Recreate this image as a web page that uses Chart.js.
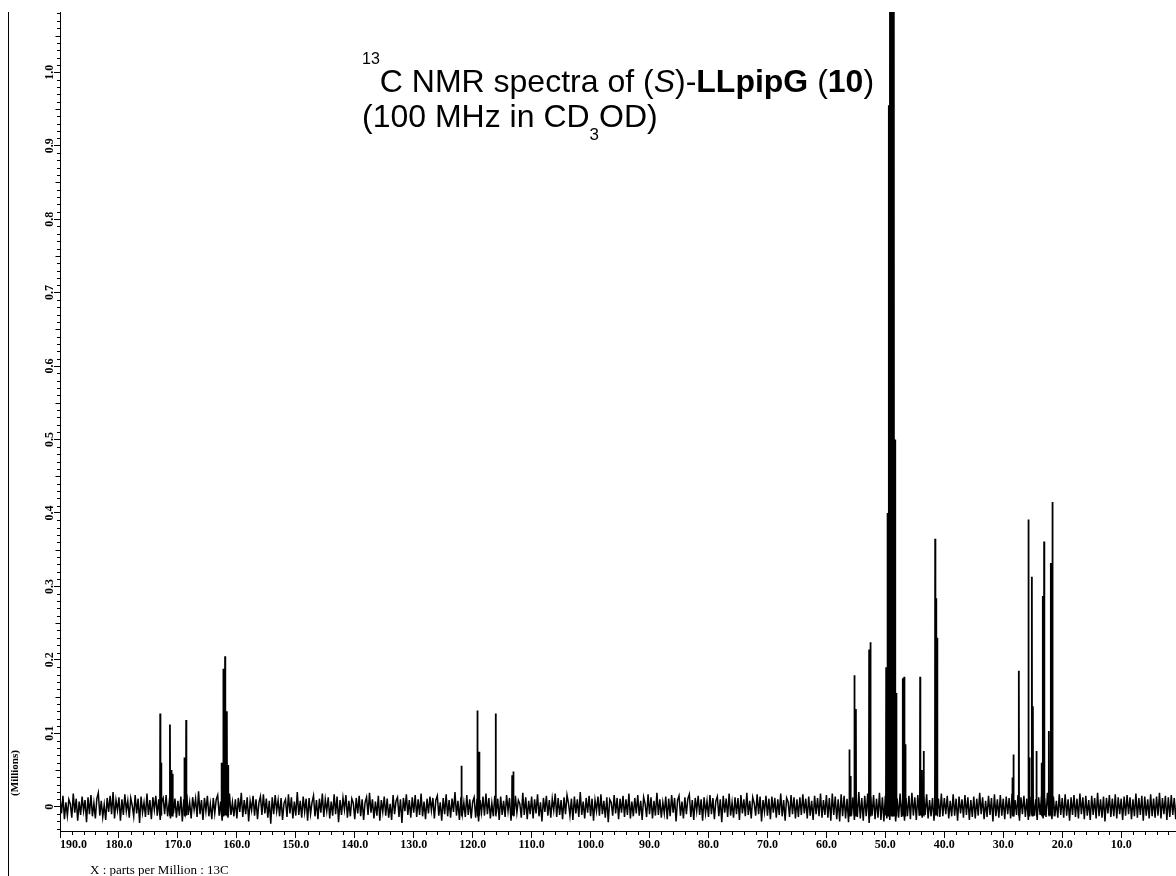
<!DOCTYPE html>
<html>
<head>
<meta charset="utf-8">
<title>13C NMR (S)-LLpipG</title>
<script src="https://cdn.jsdelivr.net/npm/chart.js@4.4.1/dist/chart.umd.min.js"></script>
<style>
  html, body { margin: 0; padding: 0; background: #fff; }
  canvas { display: block; }
</style>
</head>
<body>
<canvas id="nmrChart" width="1176" height="876"></canvas>
<script>
// axis ranges (ppm axis runs right to left)
const ppmMax = 190;
const ppmMin = 0.7;
const intensityMin = -0.033;
const intensityMax = 1.082;

const xTickValues = [190, 180, 170, 160, 150, 140, 130, 120, 110, 100, 90, 80, 70, 60, 50, 40, 30, 20, 10];
const yTickValues = [0, 0.1, 0.2, 0.3, 0.4, 0.5, 0.6, 0.7, 0.8, 0.9, 1.0];
const yTickLabels = ['0', '0.1', '0.2', '0.3', '0.4', '0.5', '0.6', '0.7', '0.8', '0.9', '1.0'];

// signals: shift in ppm and peak height (millions)
const peakPpm = [
  173.0, 172.85, 171.35, 171.1, 170.9, 168.9, 168.6,
  162.6, 162.3, 162.0, 161.7, 161.5,
  121.9, 119.2, 118.9, 116.1, 113.3, 113.1,
  56.1, 55.9, 55.25, 55.0, 52.75, 52.53,
  49.86, 49.64, 49.43, 49.21, 49.0, 48.79, 48.57, 48.36, 48.14,
  47.04, 46.8, 46.6, 44.1, 43.8, 43.5, 41.55, 41.4, 41.2,
  28.45, 28.27, 27.36, 25.73, 25.56, 25.15, 24.98, 24.37,
  23.5, 23.29, 23.07, 22.27, 21.93, 21.66
];
const peakHeight = [
  0.127, 0.06, 0.112, 0.05, 0.045, 0.067, 0.118,
  0.06, 0.188, 0.205, 0.13, 0.057,
  0.056, 0.131, 0.075, 0.127, 0.043, 0.048,
  0.078, 0.042, 0.179, 0.133, 0.214, 0.224,
  0.19, 0.40, 0.955, 1.3, 1.3, 1.3, 1.3, 0.5, 0.155,
  0.175, 0.177, 0.085, 0.177, 0.05, 0.076, 0.365, 0.284, 0.23,
  0.04, 0.071, 0.185, 0.391, 0.067, 0.313, 0.137, 0.076,
  0.06, 0.287, 0.361, 0.103, 0.332, 0.415
];

// baseline noise, read every 0.25 ppm from 190 ppm downwards
const noiseStartPpm = 190;
const noiseStepPpm = 0.25;
const noiseValues = [
  .012,-.009,.015,-.017,.006,-.012,.010,.004,-.015,.018,-.008,.011,-.019,.007,-.011,.014,-.006,.009,-.021,.013,
  -.010,.016,-.013,.005,-.016,.011,.019,-.012,.008,-.014,.003,-.018,.012,-.007,.015,-.010,.020,-.016,.009,-.005,
  .013,-.019,.010,-.011,.017,-.006,.008,-.015,.012,.002,-.013,.016,-.009,.011,-.022,.014,-.008,.006,-.014,.018,
  -.011,.009,-.017,.013,-.004,.015,-.012,.010,-.018,.007,.012,-.010,.016,-.013,.005,-.016,.019,-.009,.011,-.015,
  .008,-.012,.014,-.020,.010,-.007,.017,-.011,.006,-.016,.013,-.004,.011,-.014,.021,-.010,.009,-.018,.012,-.006,
  .015,-.013,.004,-.017,.012,-.009,.010,.016,-.012,.007,-.019,.014,-.008,.011,-.015,.018,-.011,.006,-.013,.010,
  -.016,.012,-.007,.019,-.014,.009,-.010,.013,-.020,.008,-.005,.015,-.012,.010,-.017,.006,.014,-.011,.017,-.009,
  .011,-.015,.008,-.023,.013,-.010,.016,-.006,.009,-.013,.012,-.018,.005,.010,-.014,.017,-.009,.013,-.016,.007,
  -.012,.020,-.011,.008,-.015,.014,-.007,.011,-.019,.012,-.010,.006,.015,-.013,.009,-.017,.011,-.008,.018,-.014,
  .010,-.006,.013,-.016,.007,-.012,.017,-.010,.014,-.021,.009,-.011,.012,-.004,.016,-.015,.008,-.013,.011,.005,
  -.017,.012,-.009,.015,-.013,.010,-.018,.006,.013,-.011,.019,-.008,.010,-.016,.007,-.012,.015,-.019,.009,-.007,
  .014,-.012,.011,-.015,.004,-.018,.016,-.010,.008,.013,-.014,.010,-.022,.012,-.006,.017,-.011,.009,-.015,.013,
  -.008,.016,-.014,.010,-.011,.018,-.013,.007,-.017,.011,-.009,.014,-.005,.012,-.016,.009,.015,-.012,.006,-.019,
  .012,-.010,.017,-.013,.009,-.015,.011,-.007,.020,-.012,.008,-.018,.013,-.010,.006,-.014,.016,-.011,.010,-.016,
  .007,.013,-.015,.011,-.020,.009,-.008,.014,-.012,.018,-.010,.012,-.016,.005,-.013,.015,-.009,.011,-.018,.014,
  -.011,.008,-.014,.016,-.006,.012,-.019,.010,-.012,.015,-.008,.009,.004,-.015,.019,-.011,.013,-.017,.008,-.010,
  .014,-.016,.010,-.009,.017,-.013,.006,-.020,.012,-.007,.015,-.012,.009,-.015,.011,-.005,.018,-.014,.012,-.011,
  .009,-.017,.013,-.010,.016,.005,-.012,.011,-.018,.014,-.009,.010,-.014,.020,-.011,.007,-.016,.012,-.008,.015,
  -.013,.011,-.019,.009,-.006,.014,-.012,.017,-.010,.008,-.015,.013,-.021,.010,.006,-.012,.016,-.009,.012,-.017,
  .011,-.008,.015,-.014,.010,-.011,.018,-.016,.007,-.013,.012,-.009,.016,-.012,.008,-.018,.013,.004,-.014,.017,
  -.010,.013,-.016,.008,-.012,.019,-.011,.010,-.015,.006,-.009,.014,-.017,.011,-.013,.016,-.008,.012,-.020,.009,
  .015,-.012,.007,-.016,.013,-.010,.011,.017,-.014,.009,-.018,.012,-.006,.015,-.011,.010,-.019,.013,-.009,.008,
  -.014,.016,-.010,.012,-.017,.008,.014,-.013,.010,-.021,.015,-.008,.011,-.014,.018,-.012,.006,-.015,.013,-.010,
  .012,-.018,.016,-.009,.010,-.013,.019,-.011,.008,-.016,.013,.005,-.012,.017,-.010,.014,-.020,.009,-.007,.015,
  -.012,.011,-.017,.014,-.008,.012,-.015,.010,-.011,.018,-.013,.009,-.019,.012,.007,-.014,.016,-.010,.013,-.016,
  .010,-.014,.013,-.011,.017,-.009,.011,-.016,.014,-.012,.008,-.018,.015,-.010,.012,-.013,.018,-.015,.009,-.011,
  .016,-.015,.012,-.019,.018,-.011,.014,-.017,.010,-.020,.017,-.013,.015,-.016,.011,-.021,.019,-.012,.013,-.018,
  .017,-.014,.020,-.016,.012,-.019,.015,-.013,.018,-.022,.014,-.012,.016,-.017,.011,-.015,.019,-.018,.013,-.020,
  .015,-.016,.012,-.018,.017,-.013,.014,-.020,.011,-.015,.018,-.014,.016,-.019,.012,-.013,.015,-.017,.019,-.012,
  .013,-.018,.016,-.012,.010,-.015,.014,-.011,.017,-.016,.009,-.013,.012,-.019,.015,-.010,.011,-.014,.018,-.013,
  .012,-.010,.015,-.016,.008,-.013,.017,-.012,.011,-.019,.014,-.009,.010,-.015,.016,-.011,.013,-.018,.009,-.014,
  .014,-.016,.011,-.012,.019,-.010,.013,-.017,.008,-.014,.015,-.011,.012,-.020,.017,-.013,.010,-.015,.016,-.012,
  .011,-.017,.014,-.010,.012,-.016,.018,-.013,.009,-.011,.016,-.019,.013,-.010,.015,-.014,.011,-.018,.014,-.009,
  .016,-.012,.010,-.018,.013,-.011,.015,-.016,.012,-.014,.019,-.010,.011,-.017,.014,-.013,.008,-.015,.017,-.011,
  .012,-.015,.017,-.012,.010,-.019,.013,-.011,.016,-.014,.011,-.016,.018,-.010,.013,-.017,.015,-.012,.009,-.018,
  .015,-.011,.012,-.016,.019,-.013,.010,-.015,.014,-.020,.012,-.009,.016,-.014,.011,-.013,.017,-.016,.013,-.010,
  .011,-.018,.014,-.012,.016,-.010,.013,-.017,.010,-.013,.018,-.015,.012,-.011,.015,-.019,.014,-.012,.010,-.016,
  .017,-.013,.011,-.015,.014,-.012,.019,-.016,.012,-.010,.015,-.018,.013,-.014,.016,-.011,.012,-.017,.015,-.013
];

const noisePoints = noiseValues.map((v, i) => ({ x: noiseStartPpm - i * noiseStepPpm, y: v }));

// each signal is a very narrow spike standing on the noise
const peakPoints = [];
peakPpm.forEach((p, i) => {
  peakPoints.push({ x: p + 0.04, y: -0.012 });
  peakPoints.push({ x: p, y: peakHeight[i] });
  peakPoints.push({ x: p - 0.04, y: -0.012 });
  peakPoints.push({ x: p - 0.04, y: null });
});

const sans = '"Liberation Sans", Arial, sans-serif';
const serif = '"Liberation Serif", "Times New Roman", serif';

function drawRuns(ctx, runs, x, y) {
  runs.forEach(r => {
    ctx.font = r.font;
    ctx.fillText(r.text, x, y + (r.dy || 0));
    x += ctx.measureText(r.text).width;
  });
}

const decorations = {
  id: 'decorations',
  afterDraw(chart) {
    const ctx = chart.ctx;
    const xs = chart.scales.x;
    const ys = chart.scales.y;
    ctx.save();
    ctx.strokeStyle = '#000';
    ctx.fillStyle = '#000';
    ctx.lineWidth = 1;

    // left frame line
    ctx.beginPath();
    ctx.moveTo(8.5, 12);
    ctx.lineTo(8.5, 876);
    ctx.stroke();

    // minor ticks
    ctx.beginPath();
    for (let v = 2; v < 190; v += 2) {
      if (v % 10 === 0) continue;
      const px = Math.round(xs.getPixelForValue(v)) + 0.5;
      ctx.moveTo(px, xs.top);
      ctx.lineTo(px, xs.top + 4);
    }
    for (let k = -3; k <= 108; k++) {
      if (k % 10 === 0) continue;
      const py = Math.round(ys.getPixelForValue(k / 100)) + 0.5;
      const len = k % 5 === 0 ? 4.5 : 3;
      ctx.moveTo(ys.right, py);
      ctx.lineTo(ys.right - len, py);
    }
    ctx.stroke();

    // title
    ctx.textAlign = 'left';
    ctx.textBaseline = 'alphabetic';
    const F = '32px ' + sans;
    drawRuns(ctx, [
      { text: '13', font: '16px ' + sans, dy: -28 },
      { text: 'C NMR spectra of (', font: F },
      { text: 'S', font: 'italic ' + F },
      { text: ')-', font: F },
      { text: 'LLpipG', font: 'bold ' + F },
      { text: ' (', font: F },
      { text: '10', font: 'bold ' + F },
      { text: ')', font: F }
    ], 362, 92);
    drawRuns(ctx, [
      { text: '(100 MHz in CD', font: F },
      { text: '3', font: '17px ' + sans, dy: 13 },
      { text: 'OD)', font: F }
    ], 362, 127);

    // axis captions
    ctx.font = 'bold 11px ' + serif;
    ctx.save();
    ctx.translate(15, 773);
    ctx.rotate(-Math.PI / 2);
    ctx.textAlign = 'center';
    ctx.textBaseline = 'middle';
    ctx.fillText('(Millions)', 0, 0);
    ctx.restore();

    ctx.font = '13px ' + serif;
    ctx.fillText('X : parts per Million : 13C', 90, 874);
    ctx.restore();
  }
};

const tickFont = { family: serif, size: 12, weight: 'bold' };

new Chart(document.getElementById('nmrChart'), {
  type: 'line',
  data: {
    datasets: [
      { data: noisePoints, borderColor: '#000', borderWidth: 1.5, pointRadius: 0, tension: 0 },
      { data: peakPoints, borderColor: '#000', borderWidth: 1.8, pointRadius: 0, tension: 0, spanGaps: false }
    ]
  },
  options: {
    responsive: false,
    animation: false,
    devicePixelRatio: 1,
    layout: { padding: { top: 12, left: 0, right: 0, bottom: 0 } },
    plugins: { legend: { display: false }, tooltip: { enabled: false } },
    scales: {
      x: {
        type: 'linear',
        reverse: true,
        min: ppmMin,
        max: ppmMax,
        afterBuildTicks: s => { s.ticks = xTickValues.map(v => ({ value: v })); },
        afterFit: s => { s.height = 45; },
        grid: { display: true, drawOnChartArea: false, drawTicks: true, tickLength: 7, color: '#000' },
        border: { display: true, color: '#000', width: 1 },
        ticks: {
          autoSkip: false, maxRotation: 0, minRotation: 0, padding: 0,
          color: '#000', font: tickFont,
          callback: v => (v === 190 ? '         ' : '') + v.toFixed(1)
        }
      },
      y: {
        type: 'linear',
        min: intensityMin,
        max: intensityMax,
        afterBuildTicks: s => { s.ticks = yTickValues.map(v => ({ value: v })); },
        afterFit: s => { s.width = 60; },
        grid: { display: true, drawOnChartArea: false, drawTicks: true, tickLength: 6, color: '#000' },
        border: { display: true, color: '#000', width: 1 },
        ticks: {
          minRotation: 90, maxRotation: 90, crossAlign: 'center', padding: -3,
          color: '#000', font: tickFont,
          callback: (v, i) => yTickLabels[i]
        }
      }
    }
  },
  plugins: [decorations]
});
</script>
</body>
</html>
